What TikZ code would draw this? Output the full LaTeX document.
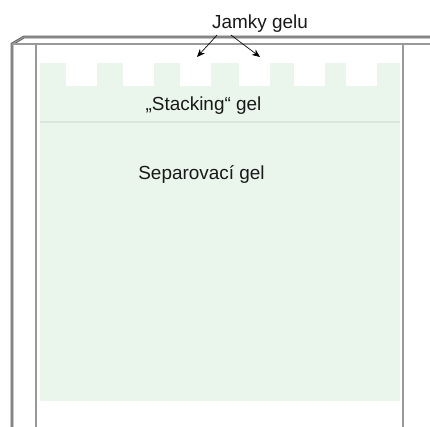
\documentclass[tikz,border=0pt]{standalone}
\usepackage{fontspec}
\setmainfont{Liberation Sans}
\usetikzlibrary{arrows.meta}
\definecolor{gelgreen}{RGB}{234,245,236}
\definecolor{gelline}{RGB}{218,230,221}

\begin{document}
\begin{tikzpicture}[
  x=0.75pt, y=-0.75pt, font=\fontsize{14.2}{17}\selectfont,
  plate/.style = {draw=black!62, line width=0.65pt, double=black!40, double distance=0.8pt},
  gel/.style   = {fill=gelgreen, draw=none},
  well/.style  = {fill=white, draw=none},
  lbl/.style   = {anchor=base, inner sep=0pt, text=black!90},
  arr/.style   = {-{Stealth[length=6pt, width=5pt]}, line width=0.5pt, shorten <=1pt}
]
\useasboundingbox (0,0) rectangle (430,427);
% gel
\path[gel] (40,63) rectangle (400,401);
\foreach \wx in {66,123,180,239,294,346}
  \path[well] (\wx,62) rectangle ++(31,24);
\draw[gelline, line width=0.8pt] (40,122) -- (400,122);
% glass plates
\draw[plate] (12,430) -- (12,44) -- (24,37) -- (432,37);
\draw[plate] (12,44) -- (432,44);
\draw[plate] (36,44) -- (36,430);
\draw[plate] (403,44) -- (403,430);
% labels
\node[lbl] (jamky) at (260,29) {Jamky gelu};
\node[lbl] (stack) at (203.5,111) {„Stacking“ gel};
\node[lbl] (separ) at (201.5,180) {Separovací gel};
\coordinate (well2) at (197,57);
\coordinate (well4) at (260,57);
\draw[arr] (jamky.south west) ++(6,1) coordinate (ja) (ja) -- (well2);
\draw[arr] (jamky.south west) ++(18,1) coordinate (jb) (jb) -- (well4);
\end{tikzpicture}
\end{document}
